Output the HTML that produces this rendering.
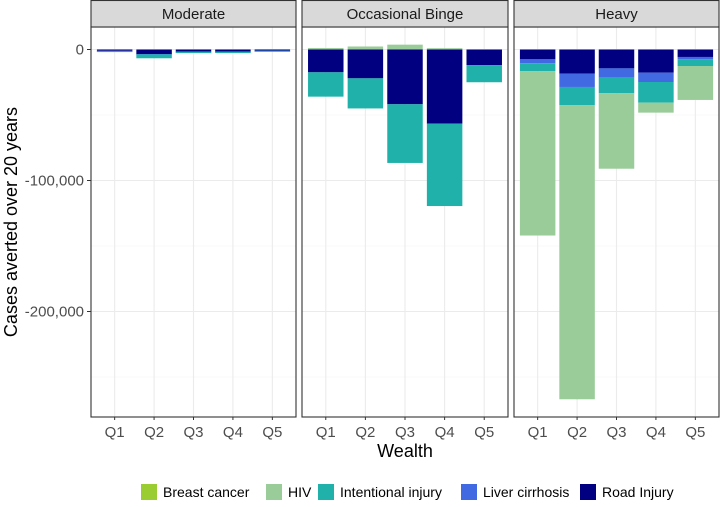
<!DOCTYPE html>
<html><head><meta charset="utf-8"><style>
body{margin:0;background:#fff;font-family:"Liberation Sans",Arial,sans-serif}
svg text{font-family:"Liberation Sans",Arial,sans-serif}
</style></head><body>
<svg id="chart" width="724" height="502" xmlns="http://www.w3.org/2000/svg"></svg>
<script>
const panels = ["Moderate","Occasional Binge","Heavy"];
const categories = ["Q1","Q2","Q3","Q4","Q5"];
const causes = ["Road Injury","Liver cirrhosis","Intentional injury","HIV","Breast cancer"];
const roadInjury = [[-1000,-3500,-1500,-1500,-800],[-17400,-22000,-41800,-56600,-12000],[-7500,-18500,-14400,-17700,-5700]];
const liverCirrhosis = [[-200,-200,-200,-200,-200],[0,0,0,0,0],[-3000,-10100,-7100,-7100,-1800]];
const intentionalInjury = [[-300,-3000,-1000,-1000,-200],[-18600,-23000,-44800,-62900,-13000],[-6100,-13800,-11900,-15800,-5100]];
const hiv = [[0,0,0,0,0],[1100,2300,3700,1000,0],[-125400,-224600,-57600,-7600,-25900]];
const breastCancer = [[0,0,0,0,0],[0,0,0,0,0],[0,0,0,0,0]];
const yTicks = [0,-100000,-200000];
const yTickLabels = ["0","-100,000","-200,000"];
const yMinor = [-50000,-150000,-250000];
const colors = {"Breast cancer":"#9ACD32","HIV":"#99CC99","Intentional injury":"#20B2AA","Liver cirrhosis":"#4169E1","Road Injury":"#000080"};
const legendOrder = ["Breast cancer","HIV","Intentional injury","Liver cirrhosis","Road Injury"];

const svg = document.getElementById('chart');
const NS = "http://www.w3.org/2000/svg";
function mk(tag, attrs, parent){const e=document.createElementNS(NS,tag);for(const k in attrs)e.setAttribute(k,attrs[k]);(parent||svg).appendChild(e);return e;}
const plotTop=27, plotBottom=417, zeroY=49.5, pxPer=131/100000;
function y(v){return zeroY - v*pxPer;}
const panelX=[[91,296],[302,508],[514,719]];
function x(p,i){const [a,b]=panelX[p];const u=(b-a)/5.2;return a+u*(0.6+i);}
const bw = (205/5.2)*0.9;

yTicks.forEach((t,i)=>{
  const tx=mk('text',{x:84,y:y(t)+5,'text-anchor':'end','font-size':15,fill:'#4d4d4d'});
  tx.textContent=yTickLabels[i];
  
  
  const tl=mk('line',{x1:87,x2:91,y1:y(t),y2:y(t),stroke:'#333','stroke-width':1});
  
  
});
const yt=mk('text',{x:17,y:222,'text-anchor':'middle','font-size':18,fill:'#000',transform:'rotate(-90 17 222)'});
yt.textContent='Cases averted over 20 years';



panels.forEach((pn,p)=>{
  const [a,b]=panelX[p];
  const g=mk('g',{});
  
  
  mk('rect',{x:a,y:plotTop,width:b-a,height:plotBottom-plotTop,fill:'#fff'},g);
  yMinor.forEach(t=>mk('line',{x1:a,x2:b,y1:y(t),y2:y(t),stroke:'#f2f2f2','stroke-width':0.6},g));
  yTicks.forEach(t=>mk('line',{x1:a,x2:b,y1:y(t),y2:y(t),stroke:'#ebebeb','stroke-width':1.1},g));
  categories.forEach((c,i)=>mk('line',{x1:x(p,i),x2:x(p,i),y1:plotTop,y2:plotBottom,stroke:'#ebebeb','stroke-width':1.1},g));
  const series=[roadInjury,liverCirrhosis,intentionalInjury,hiv,breastCancer];
  categories.forEach((c,i)=>{
    let neg=0,pos=0;
    series.forEach((s,k)=>{
      const v=s[p][i]; if(!v) return;
      let y0,y1;
      if(v<0){y0=neg;y1=neg+v;neg=y1;}else{y0=pos;y1=pos+v;pos=y1;}
      const r=mk('rect',{x:x(p,i)-bw/2,y:Math.min(y(y0),y(y1)),width:bw,height:Math.max(Math.abs(y(y0)-y(y1)),1),fill:colors[causes[k]]},g);
      
      
    });
    const tk=mk('line',{x1:x(p,i),x2:x(p,i),y1:plotBottom,y2:plotBottom+3,stroke:'#333'},g);
    
    
    const lt=mk('text',{x:x(p,i),y:437,'text-anchor':'middle','font-size':15,fill:'#4d4d4d'},g);
    lt.textContent=c;
    
    
  });
  mk('rect',{x:a,y:plotTop,width:b-a,height:plotBottom-plotTop,fill:'none',stroke:'#333','stroke-width':1.1},g);
  const st=mk('rect',{x:a,y:0.5,width:b-a,height:plotTop-0.5,fill:'#d9d9d9',stroke:'#333','stroke-width':1.1},g);
  
  
  const sl=mk('text',{x:(a+b)/2,y:19,'text-anchor':'middle','font-size':15,fill:'#1a1a1a'},g);
  sl.textContent=pn;
  
  
});

const xt=mk('text',{x:405,y:457,'text-anchor':'middle','font-size':18,fill:'#000'});
xt.textContent='Wealth';



const legendX=[141,266,318,461,580];
legendOrder.forEach((n,i)=>{
  const g=mk('g',{});
  
  
  mk('rect',{x:legendX[i],y:484,width:16,height:16,fill:colors[n]},g);
  const t=mk('text',{x:legendX[i]+22,y:497,'font-size':14,fill:'#000'},g);
  t.textContent=n;
});
</script>
</body></html>
